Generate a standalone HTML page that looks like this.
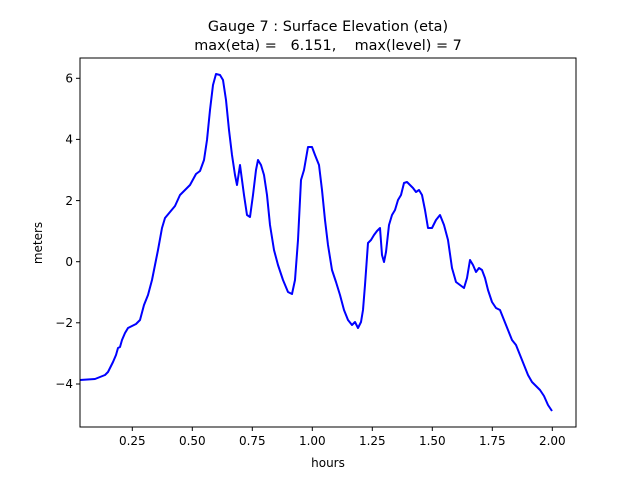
<!DOCTYPE html>
<html><head><style>body{margin:0;background:#fff}svg{display:block}</style></head><body>
<svg width="640" height="480" xmlns="http://www.w3.org/2000/svg" font-family="DejaVu Sans, Liberation Sans, sans-serif">
<rect width="640" height="480" fill="#fff"/>
<text x="328" y="31" font-size="14.4" text-anchor="middle">Gauge 7 : Surface Elevation (eta)</text>
<text x="328" y="50" font-size="14.4" text-anchor="middle" xml:space="preserve">max(eta) =   6.151,    max(level) = 7</text>
<polyline fill="none" stroke="#0000ff" stroke-width="2" stroke-linejoin="round" points="80,380 95,379 100,377 105,375 108,372 110,368 113,362 116,355 118,348 120,347 122,340 125,333 128,328 132,326 136,324 140,320 144,305 148,295 152,280 155,265 158,250 162,228 165,218 170,212 175,206 180,195 185,190 190,185 196,174 200,171 204,160 207,140 210,110 213,85 216,74 220,75 223,80 226,100 229,130 232,155 235,175 237,185 240,165 242,180 244,195 247,215 250,217 253,195 256,170 258,160 261,165 264,175 267,195 270,225 274,250 278,265 283,280 288,292 292,294 295,280 298,240 301,180 304,170 308,147 312,147 315,155 319,165 322,190 325,220 328,245 332,270 336,282 340,295 344,310 348,320 352,325 355,322 358,328 361,322 363,310 365,285 368,243 371,240 374,235 377,231 380,228 382,255 384,262 386,252 389,225 392,215 395,210 398,200 401,195 404,183 407,182 410,185 413,188 416,192 419,190 422,195 425,210 428,228 432,228 436,220 440,215 444,225 448,240 452,268 456,282 460,285 464,288 467,278 470,260 473,265 476,272 479,268 482,270 485,278 488,290 492,302 496,308 500,310 504,320 508,330 512,340 516,345 520,355 524,365 528,375 532,382 536,386 540,390 544,396 548,405 552,411"/>
<rect x="80" y="58" width="496" height="369" fill="none" stroke="#000" stroke-width="1"/>
<g stroke="#000" stroke-width="1">
<line x1="132.3" y1="427" x2="132.3" y2="431"/><line x1="192.3" y1="427" x2="192.3" y2="431"/><line x1="252.3" y1="427" x2="252.3" y2="431"/><line x1="312.3" y1="427" x2="312.3" y2="431"/><line x1="372.3" y1="427" x2="372.3" y2="431"/><line x1="432.3" y1="427" x2="432.3" y2="431"/><line x1="492.3" y1="427" x2="492.3" y2="431"/><line x1="552.3" y1="427" x2="552.3" y2="431"/>
<line x1="76" y1="78.3" x2="80" y2="78.3"/><line x1="76" y1="139.4" x2="80" y2="139.4"/><line x1="76" y1="200.6" x2="80" y2="200.6"/><line x1="76" y1="261.7" x2="80" y2="261.7"/><line x1="76" y1="322.8" x2="80" y2="322.8"/><line x1="76" y1="384" x2="80" y2="384"/>
</g>
<g font-size="12" text-anchor="middle">
<text x="132.3" y="445">0.25</text><text x="192.3" y="445">0.50</text><text x="252.3" y="445">0.75</text><text x="312.3" y="445">1.00</text><text x="372.3" y="445">1.25</text><text x="432.3" y="445">1.50</text><text x="492.3" y="445">1.75</text><text x="552.3" y="445">2.00</text>
<text x="328" y="467">hours</text>
</g>
<g font-size="12" text-anchor="end">
<text x="73" y="82.5">6</text><text x="73" y="143.6">4</text><text x="73" y="204.8">2</text><text x="73" y="265.9">0</text><text x="73" y="327">−2</text><text x="73" y="388.2">−4</text>
</g>
<text transform="translate(42,243) rotate(-90)" font-size="12" text-anchor="middle">meters</text>
</svg>
</body></html>
